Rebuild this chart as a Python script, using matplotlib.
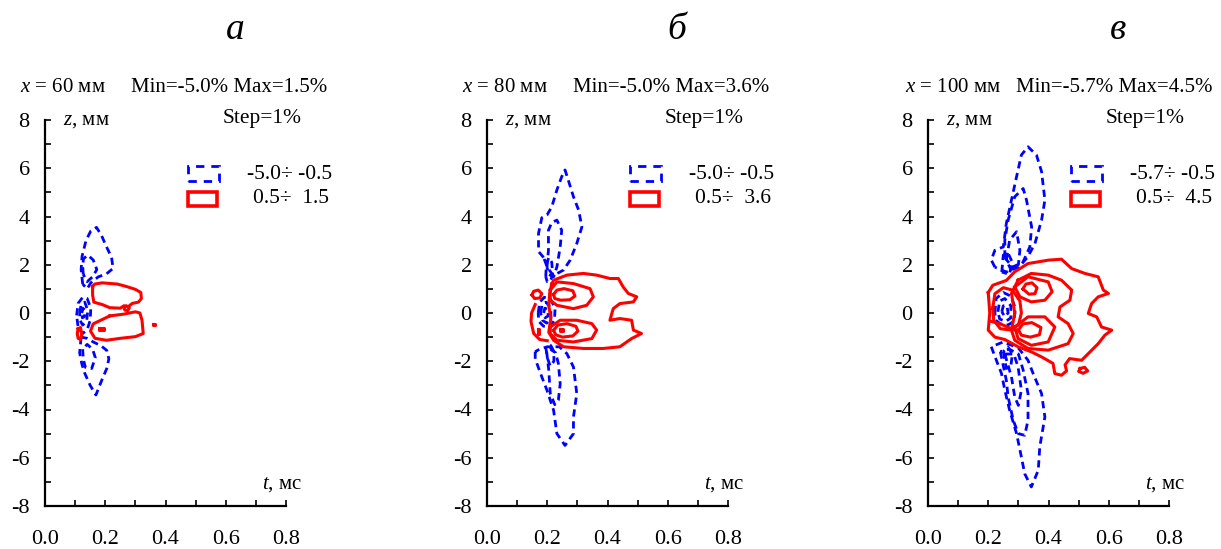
import matplotlib.pyplot as plt
from matplotlib.patches import Rectangle

plt.rcParams['font.family'] = ['Liberation Serif', 'DejaVu Serif']
plt.rcParams['mathtext.fontset'] = 'custom'
plt.rcParams['mathtext.it'] = 'Liberation Serif:italic'
plt.rcParams['mathtext.rm'] = 'Liberation Serif'

# panel headers
letters = ['а', 'б', 'в']
x_mm = [60, 80, 100]
v_min = [-5.0, -5.0, -5.7]
v_max = [1.5, 3.6, 4.5]

# contour lines, (t [ms], z [mm]) vertices
# negative levels (blue, dashed)
a_blue = [
    [(0.125, 1.2), (0.12, 1.8), (0.123, 2.35), (0.136, 3.0), (0.152, 3.4), (0.171, 3.55), (0.188, 3.2),
     (0.204, 2.75), (0.221, 2.3), (0.226, 1.85), (0.204, 1.62), (0.177, 1.5), (0.152, 1.25), (0.14, 1.0), (0.125, 1.2)],
    [(0.127, 1.6), (0.125, 1.95), (0.128, 2.25), (0.142, 2.4), (0.16, 2.2), (0.172, 1.8), (0.158, 1.5), (0.14, 1.3), (0.127, 1.6)],
    [(0.12, -1.0), (0.115, -1.65), (0.122, -2.1), (0.132, -2.5), (0.15, -3.0), (0.169, -3.4), (0.188, -2.8),
     (0.205, -2.3), (0.212, -1.9), (0.205, -1.55), (0.185, -1.35), (0.16, -1.2), (0.14, -1.05), (0.12, -1.0)],
    [(0.125, -1.5), (0.127, -1.9), (0.134, -2.25), (0.155, -2.3), (0.167, -1.85), (0.158, -1.5), (0.14, -1.3), (0.125, -1.5)],
    [(0.105, -0.1), (0.11, 0.4), (0.125, 0.65), (0.14, 0.6), (0.152, 0.2), (0.15, -0.3), (0.14, -0.7), (0.125, -0.85), (0.11, -0.6), (0.105, -0.1)],
    [(0.115, 0.0), (0.12, 0.35), (0.132, 0.45), (0.142, 0.1), (0.138, -0.35), (0.125, -0.5), (0.116, -0.3), (0.115, 0.0)],
    [(0.122, 0.0), (0.126, 0.2), (0.133, 0.1), (0.131, -0.15), (0.124, -0.2), (0.122, 0.0)],
]
b_blue = [
    [(0.188, 2.3), (0.171, 2.55), (0.171, 3.3), (0.182, 3.95), (0.199, 4.06), (0.215, 4.4), (0.232, 5.1), (0.248, 5.65),
     (0.259, 5.93), (0.27, 5.5), (0.287, 4.82), (0.304, 4.27), (0.315, 3.57), (0.298, 2.88), (0.276, 2.19), (0.254, 1.78),
     (0.22, 1.55), (0.2, 1.9), (0.188, 2.3)],
    [(0.199, 1.9), (0.204, 2.6), (0.204, 3.43), (0.215, 3.75), (0.232, 3.85), (0.248, 3.43), (0.243, 2.74), (0.232, 1.91),
     (0.221, 1.5), (0.205, 1.6), (0.199, 1.9)],
    [(0.195, 1.5), (0.197, 2.0), (0.205, 2.3), (0.215, 2.1), (0.218, 1.6), (0.21, 1.3), (0.2, 1.3), (0.195, 1.5)],
    [(0.16, -1.6), (0.16, -1.9), (0.182, -2.65), (0.199, -3.2), (0.221, -4.03), (0.232, -5.0), (0.259, -5.49), (0.287, -5.0),
     (0.287, -4.31), (0.298, -3.34), (0.287, -2.24), (0.265, -1.68), (0.24, -1.4), (0.2, -1.4), (0.175, -1.5), (0.16, -1.6)],
    [(0.198, -1.6), (0.205, -2.37), (0.21, -3.34), (0.225, -3.8), (0.237, -3.6), (0.243, -2.93), (0.237, -2.1), (0.228, -1.65),
     (0.21, -1.5), (0.198, -1.6)],
    [(0.195, -1.4), (0.2, -1.85), (0.21, -2.2), (0.222, -2.0), (0.222, -1.6), (0.212, -1.35), (0.195, -1.4)],
    [(0.17, 0.0), (0.175, 0.45), (0.19, 0.65), (0.21, 0.6), (0.226, 0.2), (0.224, -0.3), (0.208, -0.58), (0.188, -0.55),
     (0.172, -0.35), (0.17, 0.0)],
    [(0.178, 0.0), (0.183, 0.35), (0.196, 0.45), (0.212, 0.2), (0.212, -0.25), (0.198, -0.42), (0.184, -0.3), (0.178, 0.0)],
    [(0.188, 0.0), (0.192, 0.2), (0.202, 0.15), (0.203, -0.12), (0.193, -0.2), (0.188, 0.0)],
]
c_blue = [
    [(0.222, 1.9), (0.21, 2.2), (0.222, 2.6), (0.25, 2.74), (0.26, 3.71), (0.277, 4.68), (0.294, 5.65), (0.31, 6.55),
     (0.332, 6.89), (0.36, 6.55), (0.377, 5.86), (0.388, 4.68), (0.377, 3.85), (0.355, 2.88), (0.33, 2.3), (0.3, 1.9),
     (0.26, 1.7), (0.222, 1.9)],
    [(0.255, 2.3), (0.255, 3.02), (0.266, 3.85), (0.288, 4.82), (0.316, 5.16), (0.327, 4.68), (0.344, 3.57), (0.338, 2.74),
     (0.315, 2.1), (0.28, 1.9), (0.255, 2.3)],
    [(0.26, 2.2), (0.271, 3.02), (0.294, 3.37), (0.305, 2.6), (0.3, 2.0), (0.275, 1.8), (0.26, 2.2)],
    [(0.245, 1.7), (0.25, 2.4), (0.265, 2.5), (0.28, 2.1), (0.27, 1.6), (0.245, 1.7)],
    [(0.21, -1.4), (0.227, -1.96), (0.244, -2.51), (0.255, -3.2), (0.271, -4.03), (0.294, -5.0), (0.31, -5.97), (0.321, -6.66),
     (0.343, -7.21), (0.366, -6.52), (0.371, -5.55), (0.388, -4.31), (0.377, -3.34), (0.349, -2.51), (0.332, -1.96),
     (0.3, -1.45), (0.25, -1.2), (0.21, -1.4)],
    [(0.24, -1.6), (0.26, -2.79), (0.266, -3.48), (0.283, -4.45), (0.3, -5.0), (0.321, -5.07), (0.332, -4.45), (0.332, -3.34),
     (0.316, -2.37), (0.3, -1.7), (0.27, -1.5), (0.24, -1.6)],
    [(0.255, -1.7), (0.277, -2.65), (0.288, -3.48), (0.3, -3.83), (0.31, -3.2), (0.299, -2.24), (0.285, -1.7), (0.255, -1.7)],
    [(0.25, -1.6), (0.26, -2.3), (0.275, -2.2), (0.28, -1.7), (0.265, -1.4), (0.25, -1.6)],
    [(0.222, 0.0), (0.226, 0.6), (0.25, 0.85), (0.275, 0.7), (0.29, 0.2), (0.285, -0.35), (0.265, -0.5), (0.24, -0.45),
     (0.225, -0.3), (0.222, 0.0)],
    [(0.232, 0.05), (0.238, 0.5), (0.255, 0.6), (0.275, 0.3), (0.275, -0.2), (0.258, -0.35), (0.238, -0.25), (0.232, 0.05)],
    [(0.245, 0.05), (0.25, 0.3), (0.262, 0.3), (0.266, 0.0), (0.255, -0.15), (0.245, 0.05)],
]

# positive levels (red, solid)
a_red = [
    [(0.158, 1.1), (0.165, 1.2), (0.19, 1.25), (0.24, 1.2), (0.27, 1.1), (0.30, 0.98), (0.318, 0.85), (0.32, 0.6), (0.31, 0.45),
     (0.29, 0.4), (0.275, 0.25), (0.262, 0.3), (0.25, 0.2), (0.215, 0.22), (0.19, 0.35), (0.162, 0.45), (0.158, 0.75), (0.158, 1.1)],
    [(0.215, -0.12), (0.26, -0.05), (0.30, 0.05), (0.315, 0.0), (0.322, -0.3), (0.326, -0.85), (0.30, -0.98), (0.25, -1.05),
     (0.204, -1.13), (0.166, -1.05), (0.151, -0.75), (0.16, -0.45), (0.185, -0.3), (0.215, -0.12)],
    [(0.262, 0.25), (0.27, 0.3), (0.28, 0.22), (0.275, 0.1), (0.265, 0.12), (0.262, 0.25)],
    [(0.11, -0.65), (0.118, -0.6), (0.122, -0.9), (0.118, -1.1), (0.11, -1.05), (0.107, -0.85), (0.11, -0.65)],
    [(0.358, -0.45), (0.364, -0.45), (0.364, -0.5), (0.358, -0.5), (0.358, -0.45)],
    [(0.18, -0.62), (0.195, -0.62), (0.195, -0.7), (0.18, -0.7), (0.18, -0.62)],
]
b_red = [
    [(0.215, 1.2), (0.221, 1.36), (0.265, 1.57), (0.32, 1.64), (0.364, 1.57), (0.408, 1.43), (0.436, 1.43), (0.452, 1.08),
     (0.469, 0.81), (0.497, 0.67), (0.486, 0.46), (0.441, 0.39), (0.419, 0.18), (0.408, -0.3), (0.441, -0.23), (0.48, -0.3),
     (0.486, -0.71), (0.513, -0.85), (0.48, -1.06), (0.441, -1.4), (0.386, -1.47), (0.32, -1.47), (0.254, -1.4),
     (0.221, -1.13), (0.205, -0.8), (0.212, -0.2), (0.205, 0.3), (0.208, 0.8), (0.215, 1.2)],
    [(0.21, 0.95), (0.232, 1.29), (0.287, 1.22), (0.342, 1.01), (0.353, 0.67), (0.331, 0.32), (0.287, 0.18), (0.232, 0.32),
     (0.21, 0.53), (0.21, 0.95)],
    [(0.221, 0.77), (0.232, 0.95), (0.256, 1.01), (0.285, 0.92), (0.292, 0.7), (0.275, 0.55), (0.245, 0.53), (0.225, 0.6), (0.221, 0.77)],
    [(0.21, -0.58), (0.243, -0.3), (0.298, -0.3), (0.348, -0.44), (0.364, -0.71), (0.348, -1.06), (0.287, -1.2), (0.232, -1.13),
     (0.21, -0.85), (0.21, -0.58)],
    [(0.221, -0.72), (0.235, -0.5), (0.265, -0.44), (0.295, -0.55), (0.302, -0.75), (0.285, -0.95), (0.25, -1.0), (0.228, -0.9),
     (0.221, -0.72)],
    [(0.243, -0.66), (0.253, -0.66), (0.253, -0.74), (0.243, -0.74), (0.243, -0.66)],
    [(0.149, 0.75), (0.155, 0.9), (0.17, 0.95), (0.182, 0.8), (0.175, 0.62), (0.158, 0.6), (0.149, 0.75)],
    [(0.16, 0.35), (0.148, 0.0), (0.146, -0.35), (0.155, -0.85), (0.175, -1.1), (0.2, -1.15)],
    [(0.168, -0.65), (0.172, -0.65), (0.172, -0.85), (0.168, -0.85), (0.168, -0.65)],
]
c_red = [
    [(0.2, 0.85), (0.215, 1.15), (0.26, 1.35), (0.288, 1.71), (0.332, 2.05), (0.399, 2.19), (0.443, 2.23), (0.477, 1.84),
     (0.521, 1.64), (0.565, 1.5), (0.582, 0.95), (0.599, 0.81), (0.565, 0.67), (0.543, 0.39), (0.532, -0.02), (0.56, -0.16),
     (0.576, -0.58), (0.61, -0.71), (0.587, -0.92), (0.565, -1.27), (0.51, -1.96), (0.47, -1.89), (0.455, -2.15),
     (0.46, -2.4), (0.443, -2.58), (0.421, -2.51), (0.415, -2.09), (0.377, -1.82), (0.343, -1.61), (0.299, -1.4),
     (0.255, -1.1), (0.222, -1.0), (0.2, -0.71), (0.205, 0.0), (0.2, 0.85)],
    [(0.505, -2.3), (0.52, -2.25), (0.53, -2.4), (0.515, -2.5), (0.5, -2.42), (0.505, -2.3)],
    [(0.299, 1.36), (0.343, 1.64), (0.399, 1.57), (0.443, 1.36), (0.477, 0.95), (0.471, 0.53), (0.438, 0.25), (0.432, -0.16),
     (0.465, -0.44), (0.482, -0.85), (0.465, -1.27), (0.399, -1.54), (0.332, -1.47), (0.288, -1.13), (0.277, -0.71),
     (0.288, 0.0), (0.277, 0.81), (0.299, 1.36)],
    [(0.215, 0.2), (0.222, 0.8), (0.25, 1.05), (0.28, 0.95), (0.305, 0.5), (0.31, 0.0), (0.3, -0.5), (0.27, -0.7), (0.24, -0.65),
     (0.218, -0.3), (0.215, 0.2)],
    [(0.288, 1.08), (0.332, 1.5), (0.399, 1.29), (0.412, 0.88), (0.388, 0.53), (0.343, 0.46), (0.305, 0.67), (0.288, 1.08)],
    [(0.315, 1.0), (0.325, 1.2), (0.345, 1.25), (0.362, 1.05), (0.355, 0.8), (0.335, 0.78), (0.315, 1.0)],
    [(0.288, -0.58), (0.332, -0.16), (0.388, -0.16), (0.421, -0.58), (0.399, -1.2), (0.343, -1.34), (0.299, -1.06), (0.288, -0.58)],
    [(0.3, -0.7), (0.315, -0.45), (0.345, -0.4), (0.375, -0.6), (0.37, -0.9), (0.34, -1.0), (0.31, -0.92), (0.3, -0.7)],
    [(0.21, -0.35), (0.24, -0.45), (0.29, -0.72)],
]

blues = [a_blue, b_blue, c_blue]
reds = [a_red, b_red, c_red]

fig = plt.figure(figsize=(12.21, 5.49), dpi=100)
lefts = [45, 487, 928]
head_x = [20, 462, 905]
title_x = [235, 677, 1118]
W, H = 1221, 549

for i in range(3):
    ax = fig.add_axes([lefts[i] / W, (H - 506) / H, 241 / W, 386 / H])
    for line in blues[i]:
        t = [p[0] for p in line]
        z = [p[1] for p in line]
        ax.plot(t, z, color='#0000ff', lw=2.0, dashes=(2.6, 1.7))
    for line in reds[i]:
        t = [p[0] for p in line]
        z = [p[1] for p in line]
        ax.plot(t, z, color='#ff0000', lw=2.2)

    ax.set_xlim(0, 0.8)
    ax.set_ylim(-8, 8)
    ax.set_xticks([0.0, 0.2, 0.4, 0.6, 0.8])
    ax.set_xticks([0.1, 0.3, 0.5, 0.7], minor=True)
    ax.set_yticks(range(-8, 9, 2))
    ax.set_yticks(range(-7, 8, 2), minor=True)
    ax.set_xticklabels(['0.0', '0.2', '0.4', '0.6', '0.8'])
    ax.set_yticklabels([str(v) for v in range(-8, 9, 2)])
    ax.tick_params(which='both', direction='in', length=4, width=1.2, labelsize=16)
    ax.tick_params(axis='x', pad=17)
    ax.tick_params(axis='y', pad=11)
    for s in ['top', 'right']:
        ax.spines[s].set_visible(False)
    for s in ['left', 'bottom']:
        ax.spines[s].set_linewidth(1.6)

    ax.text(0.074, 1.0, '$z$, мм', transform=ax.transAxes, fontsize=15, va='center', ha='left')
    ax.text(1.066, 0.055, '$t$, мс', transform=ax.transAxes, fontsize=15, va='center', ha='right')
    ax.text(1.066, 1.005, 'Step=1%', transform=ax.transAxes, fontsize=15.5, va='center', ha='right')

    # legend boxes
    ax.add_patch(Rectangle((0.593, 0.842), 0.128, 0.038, transform=ax.transAxes, fill=False,
                           edgecolor='#0000ff', lw=2, linestyle=(0, (3, 2.5)), clip_on=False))
    ax.add_patch(Rectangle((0.593, 0.778), 0.122, 0.036, transform=ax.transAxes, fill=False,
                           edgecolor='#ff0000', lw=2.6, clip_on=False))
    ax.text(0.840, 0.860, '%.1f÷ -0.5' % v_min[i], transform=ax.transAxes, fontsize=15.5, va='center', ha='left')
    ax.text(0.862, 0.796, '0.5÷  %.1f' % v_max[i], transform=ax.transAxes, fontsize=15.5, va='center', ha='left')

    fig.text(head_x[i] / W, (H - 87) / H, '$x$ = %d мм' % x_mm[i], fontsize=15, va='center', ha='left')
    fig.text((head_x[i] + 111) / W, (H - 87) / H, 'Min=%.1f%% Max=%.1f%%' % (v_min[i], v_max[i]),
             fontsize=15, va='center', ha='left')
    fig.text(title_x[i] / W, (H - 30) / H, letters[i], fontsize=27, style='italic', va='center', ha='center')

fig.savefig('out.png', dpi=100)
